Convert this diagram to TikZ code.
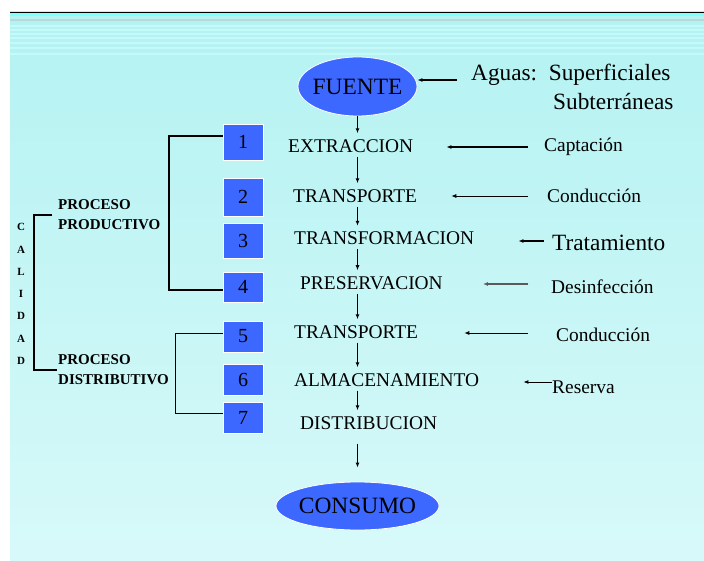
\documentclass[tikz,border=0pt]{standalone}
\usepackage{fontspec}
\setmainfont{Liberation Serif}
\usetikzlibrary{arrows.meta,calc,shapes.geometric}
\definecolor{boxblue}{RGB}{61,104,255}
\definecolor{paneltop}{RGB}{180,242,242}
\definecolor{panelbot}{RGB}{216,249,249}
\definecolor{stripe}{RGB}{196,250,250}
\definecolor{brightcyan}{RGB}{128,255,255}
\definecolor{graystripe}{RGB}{184,216,216}
\definecolor{arrowgray}{RGB}{90,90,90}
\begin{document}
\begin{tikzpicture}[x=1pt,y=-1pt,
 lbl/.style={inner sep=0pt, anchor=west, font=\fontsize{19.4}{22}\selectfont},
 big/.style={inner sep=0pt, anchor=west, font=\fontsize{23.3}{28}\selectfont},
 numbox/.style={fill=boxblue, draw=white, line width=0.8pt, minimum width=40pt, inner sep=0pt, font=\fontsize{20}{22}\selectfont},
 oval/.style={ellipse, fill=boxblue, draw=white, line width=0.8pt, inner sep=0pt},
 ovaltext/.style={inner sep=0pt, font=\fontsize{23.4}{28}\selectfont},
 vline/.style={line width=1.1pt, -{Latex[length=5pt,width=4pt]}, shorten <=4pt, shorten >=6pt},
 sarr/.style={line width=1.1pt, -{Latex[length=5pt,width=4pt]}},
 proc/.style={inner sep=0pt, anchor=west, align=left, font=\bfseries\fontsize{15}{20}\selectfont},
 brk/.style={line width=1.8pt},
]
\useasboundingbox (0,0) rectangle (704,561);
% background
\fill[white] (0,0) rectangle (704,561);
\shade[top color=paneltop, bottom color=panelbot] (10,12) rectangle (704,561);
\fill[brightcyan] (10,13) rectangle (704,16.5);
\fill[graystripe] (10,18.8) rectangle (704,20.8);
\foreach \yy in {25,29,33,37,42,47,53}{
  \fill[stripe] (10,\yy) rectangle (704,\yy+1.6);
}
\draw[line width=1.5pt] (10,12.5) -- (704,12.5);

% ovals
\node[oval, minimum width=119pt, minimum height=59pt] (fuente) at (357.5,86.5) {};
\node[ovaltext] (fuentet) at (fuente) {FUENTE};
\node[oval, minimum width=163pt, minimum height=48pt] (consumo) at (357.5,506) {};
\node[ovaltext] (consumot) at (consumo) {CONSUMO};

% main column
\node[lbl] (t1) at (288,146) {EXTRACCION};
\node[lbl] (t2) at (293,196) {TRANSPORTE};
\node[lbl] (t3) at (294,238.5) {TRANSFORMACION};
\node[lbl] (t4) at (300,283) {PRESERVACION};
\node[lbl] (t5) at (294,332) {TRANSPORTE};
\node[lbl] (t6) at (294,380) {ALMACENAMIENTO};
\node[lbl] (t7) at (300,423) {DISTRIBUCION};

\draw[vline, shorten <=0pt] (fuente.south) -- (fuente.south |- t1.north);
\draw[vline] (t1.south -| fuente) -- (t2.north -| fuente);
\draw[vline] (t2.south -| fuente) -- (t3.north -| fuente);
\draw[vline] (t3.south -| fuente) -- (t4.north -| fuente);
\draw[vline] (t4.south -| fuente) -- (t5.north -| fuente);
\draw[vline] (t5.south -| fuente) -- (t6.north -| fuente);
\draw[vline] (t6.south -| fuente) -- (t7.north -| fuente);
\draw[vline, shorten <=14pt, shorten >=14pt] (t7.south -| fuente) -- (consumo.north);

% right labels
\node[big] (aguas) at (471,75) {Aguas:\ \ Superficiales};
\node[big] (subt) at (553,102) {Subterráneas};
\node[lbl] (cap) at (544,147) {Captación};
\node[lbl] (con1) at (547,196) {Conducción};
\node[big] (trat) at (552,243) {Tratamiento};
\node[lbl] (des) at (551,287) {Desinfección};
\node[lbl] (con2) at (556,335) {Conducción};
\node[lbl] (res) at (552,387) {Reserva};

\draw[sarr, shorten <=14pt] ([yshift=-5pt]aguas.west) -- ([yshift=-5pt]aguas.west -| fuente.east);
\draw[sarr, shorten <=16pt, shorten >=33pt] (cap.west) -- (cap.west -| t1.east);
\draw[sarr, line width=0.9pt, shorten <=19pt, shorten >=34pt] (con1.west) -- (con1.west -| t2.east);
\draw[sarr, line width=1.7pt, shorten <=8pt, shorten >=44pt] ([yshift=2pt]trat.west) -- ([yshift=2pt]trat.west -| t3.east);
\draw[sarr, draw=arrowgray, fill=black, shorten <=23pt, shorten >=40pt] ([yshift=3pt]des.west) -- ([yshift=3pt]des.west -| t4.east);
\draw[sarr, line width=0.9pt, shorten <=28pt, shorten >=46pt] ([yshift=2pt]con2.west) -- ([yshift=2pt]con2.west -| t5.east);
\draw[sarr, line width=0.9pt, shorten >=44pt] ([yshift=5pt]res.west) -- ([yshift=5pt]res.west -| t6.east);

% number boxes
\node[numbox, minimum height=36pt] (b1) at (243,142) {1};
\node[numbox, minimum height=38pt] (b2) at (243,197) {2};
\node[numbox, minimum height=35pt] (b3) at (243,240.5) {3};
\node[numbox, minimum height=30pt] (b4) at (243,287) {4};
\node[numbox, minimum height=31pt] (b5) at (243,336.5) {5};
\node[numbox, minimum height=31pt] (b6) at (243,379.5) {6};
\node[numbox, minimum height=31pt] (b7) at (243,417.5) {7};

% brackets
\draw[brk] ([yshift=6pt]b1.west) -- ++(-54,0) |- ([yshift=-3pt]b4.west);
\draw[line width=0.9pt] ([yshift=3.5pt]b5.west) -- ++(-47,0) |- ([yshift=4.5pt]b7.west);

% process labels
\node[proc] (pp) at (58,215) {PROCESO\\PRODUCTIVO};
\node[proc] (pd) at (58,370) {PROCESO\\DISTRIBUTIVO};
\draw[brk, shorten <=6pt, shorten >=1pt] (pp.west) -- ++(-24,0) |- (pd.west);
\node[inner sep=0pt, align=center, font=\bfseries\fontsize{11}{22.3}\selectfont] (cal) at (21,294) {C\\A\\L\\I\\D\\A\\D};
\end{tikzpicture}
\end{document}
